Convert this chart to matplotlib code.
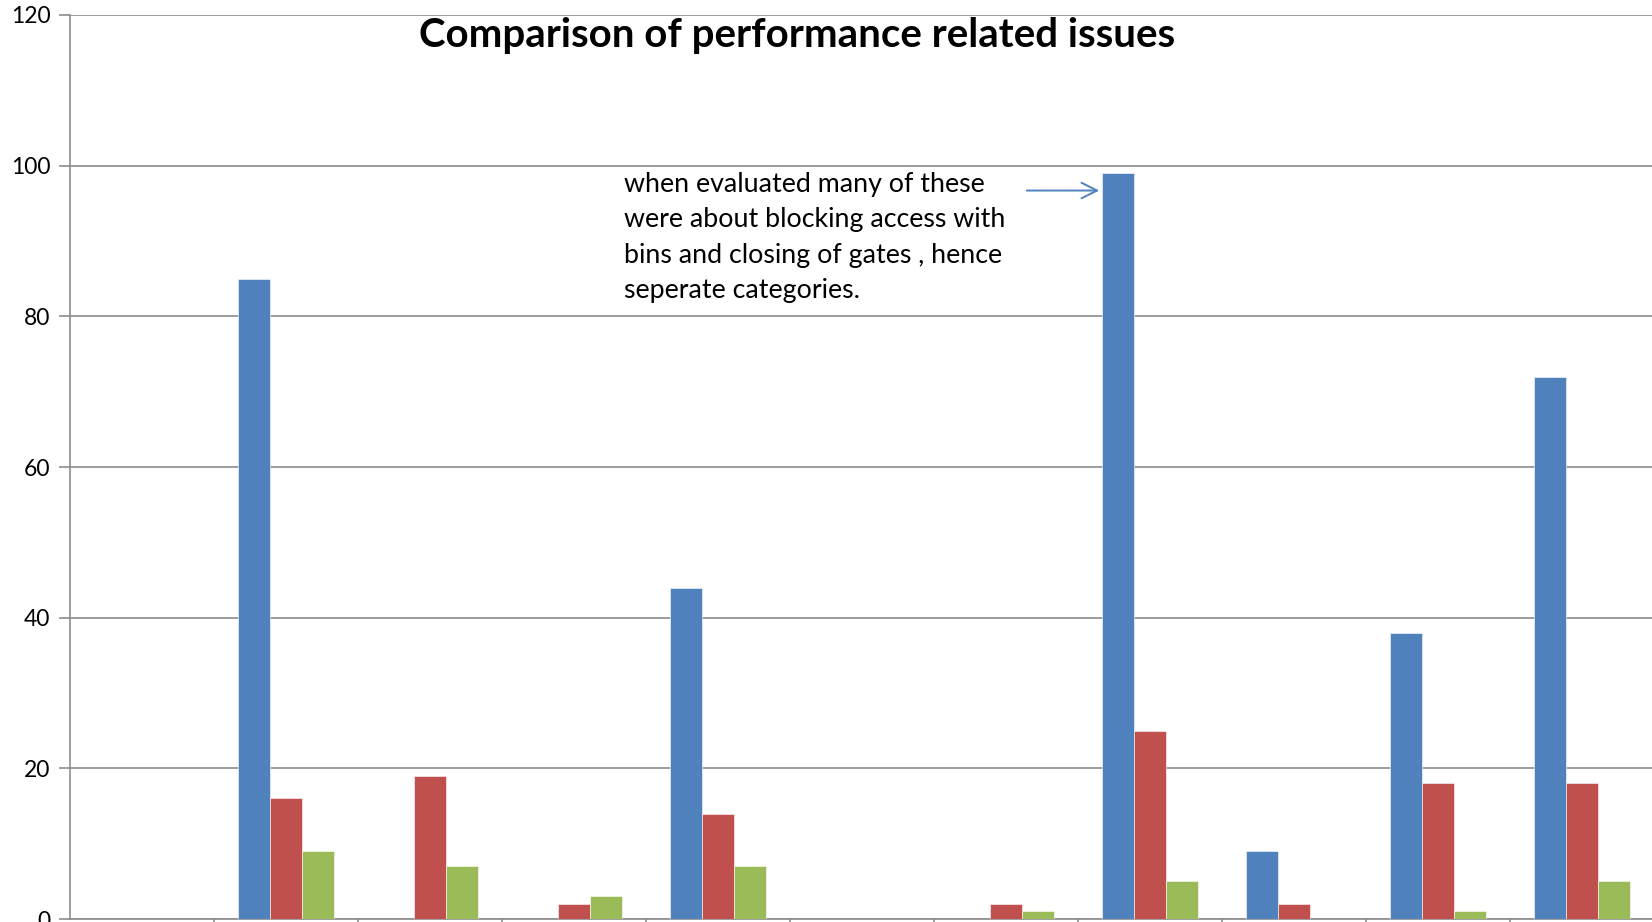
import matplotlib.pyplot as plt
import numpy as np

# categories are off the bottom of the picture, so just numbered here
categories = ["1", "2", "3", "4", "5", "6", "7", "8", "9", "10", "11"]
series_a = [0, 85, 0, 0, 44, 0, 0, 99, 9, 38, 72]
series_b = [0, 16, 19, 2, 14, 0, 2, 25, 2, 18, 18]
series_c = [0, 9, 7, 3, 7, 0, 1, 5, 0, 1, 5]
y_ticks = [0, 20, 40, 60, 80, 100, 120]

colors = ["#4F81BD", "#C0504D", "#9BBB59"]
grid_col = "#8C8C8C"

fig = plt.figure(figsize=(16.52, 9.22), dpi=100)
ax = fig.add_axes([70 / 1652, 3 / 922, 1584 / 1652, 904 / 922])

x = np.arange(len(categories))
w = 2 / 9
for i, vals in enumerate([series_a, series_b, series_c]):
    ax.bar(x + (i - 1) * w, vals, width=w, color=colors[i], zorder=3,
           edgecolor="white", linewidth=0.4)

ax.set_xlim(-0.5, len(categories) - 0.5)
ax.set_ylim(0, 120)
ax.set_yticks(y_ticks)
ax.set_yticklabels([str(t) for t in y_ticks], fontsize=16.5, family="Lato")
ax.set_xticks(x[:-1] + 0.5)
ax.set_xticklabels([])
ax.tick_params(axis="y", length=8, color=grid_col, width=1.2, pad=6)
ax.tick_params(axis="x", length=6, color=grid_col, width=1.2, direction="out")
ax.yaxis.grid(True, color=grid_col, linewidth=1.2, zorder=0)

for side in ["top", "right"]:
    ax.spines[side].set_visible(False)
for side in ["left", "bottom"]:
    ax.spines[side].set_color(grid_col)
    ax.spines[side].set_linewidth(1.2)

fig.text(797 / 1652, 1 - 36 / 922, "Comparison of performance related issues",
         ha="center", va="center", fontsize=29, fontweight="bold", family="Lato")

# note pointing at the tallest bar
note = ("when evaluated many of these\nwere about blocking access with\n"
        "bins and closing of gates , hence\nseperate categories.")
ax.text(3.347, 99.2, note, ha="left", va="top", fontsize=19.3, family="Lato",
        linespacing=1.53, zorder=4)
peak = int(np.argmax(series_a))
ax.annotate("", xy=(x[peak] - 1.5 * w, series_a[peak] - 2.3),
            xytext=(6.125, series_a[peak] - 2.3),
            arrowprops=dict(arrowstyle="->", color="#4F81BD", lw=1.4,
                            mutation_scale=28), zorder=4)

fig.savefig("out.png", dpi=100)
